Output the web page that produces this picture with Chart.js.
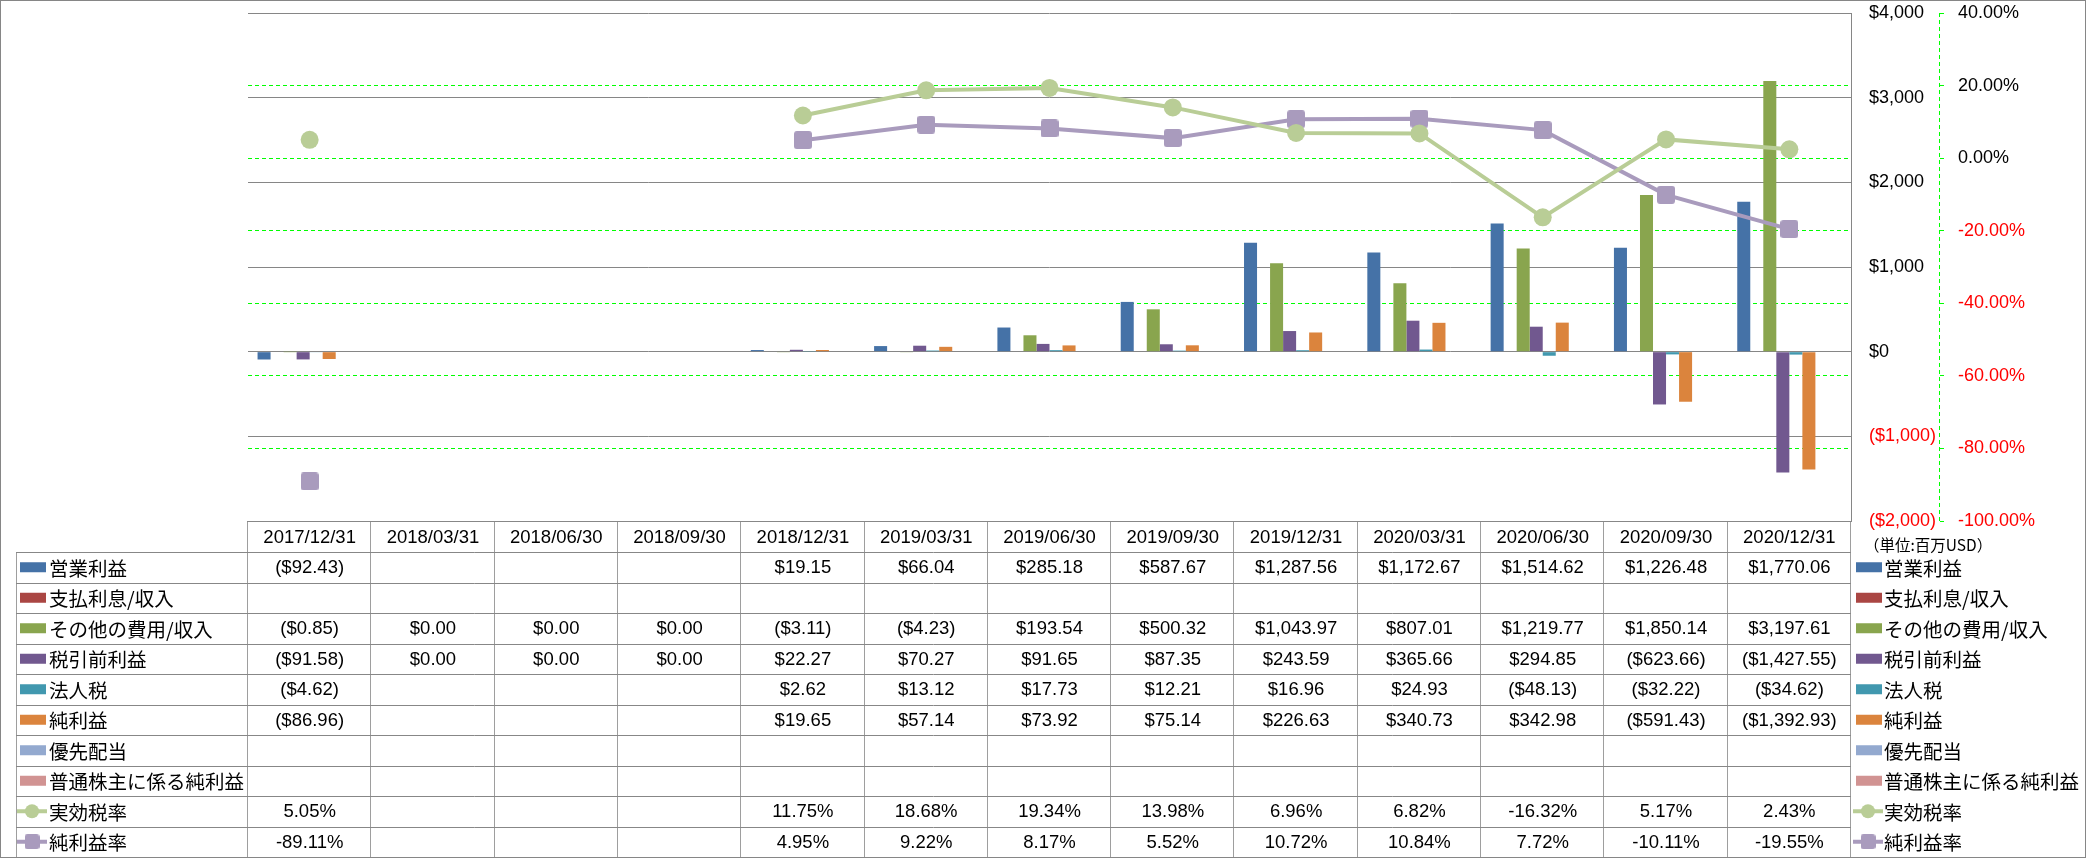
<!DOCTYPE html>
<html>
<head>
<meta charset="utf-8">
<script src="https://cdn.jsdelivr.net/npm/chart.js@4.4.0/dist/chart.umd.min.js"></script>
<style>
html,body{margin:0;padding:0;background:#fff;overflow:hidden}
canvas{display:block}
</style>
</head>
<body>
<canvas id="c" width="2086" height="858"></canvas>
<script>
// ---------------- data ----------------
const N = null;
const categories = ['2017/12/31','2018/03/31','2018/06/30','2018/09/30','2018/12/31','2019/03/31','2019/06/30','2019/09/30','2019/12/31','2020/03/31','2020/06/30','2020/09/30','2020/12/31'];
const seriesNames = ['営業利益','支払利息/収入','その他の費用/収入','税引前利益','法人税','純利益','優先配当','普通株主に係る純利益','実効税率','純利益率'];
const operatingIncome   = [-92.43, N, N, N, 19.15, 66.04, 285.18, 587.67, 1287.56, 1172.67, 1514.62, 1226.48, 1770.06];
const interestExpense   = [N, N, N, N, N, N, N, N, N, N, N, N, N];
const otherExpense      = [-0.85, 0, 0, 0, -3.11, -4.23, 193.54, 500.32, 1043.97, 807.01, 1219.77, 1850.14, 3197.61];
const pretaxIncome      = [-91.58, 0, 0, 0, 22.27, 70.27, 91.65, 87.35, 243.59, 365.66, 294.85, -623.66, -1427.55];
const incomeTax         = [-4.62, N, N, N, 2.62, 13.12, 17.73, 12.21, 16.96, 24.93, -48.13, -32.22, -34.62];
const netIncome         = [-86.96, N, N, N, 19.65, 57.14, 73.92, 75.14, 226.63, 340.73, 342.98, -591.43, -1392.93];
const preferredDividend = [N, N, N, N, N, N, N, N, N, N, N, N, N];
const netIncomeCommon   = [N, N, N, N, N, N, N, N, N, N, N, N, N];
const effectiveTaxRate  = [5.05, N, N, N, 11.75, 18.68, 19.34, 13.98, 6.96, 6.82, -16.32, 5.17, 2.43];
const netMargin         = [-89.11, N, N, N, 4.95, 9.22, 8.17, 5.52, 10.72, 10.84, 7.72, -10.11, -19.55];
const usdAxisTicks = [-2000, -1000, 0, 1000, 2000, 3000, 4000];
const pctAxisTicks = [-100, -80, -60, -40, -20, 0, 20, 40];
const unitLabel = '（単位:百万USD）';

// ---------------- styles ----------------
const seriesColors = ['#4572A7','#AA4643','#89A54E','#71588F','#4198AF','#DB843D','#93A9CF','#D19392','#B9CD96','#A99BBD'];
const barSeries = [operatingIncome, interestExpense, otherExpense, pretaxIncome, incomeTax, netIncome, preferredDividend, netIncomeCommon];
const lineSeries = [effectiveTaxRate, netMargin];
const LATIN = "'Liberation Sans', Arial, sans-serif";
const CJK = "'Noto Sans CJK JP', 'Noto Sans CJK SC', sans-serif";

function roundSquare(size, r, color) {
  const c = document.createElement('canvas');
  c.width = size; c.height = size;
  const g = c.getContext('2d');
  g.fillStyle = color;
  g.beginPath();
  g.moveTo(r, 0); g.lineTo(size - r, 0); g.quadraticCurveTo(size, 0, size, r);
  g.lineTo(size, size - r); g.quadraticCurveTo(size, size, size - r, size);
  g.lineTo(r, size); g.quadraticCurveTo(0, size, 0, size - r);
  g.lineTo(0, r); g.quadraticCurveTo(0, 0, r, 0);
  g.closePath(); g.fill();
  return c;
}
const squareMarker = roundSquare(18, 3, seriesColors[9]);

function fmtNum(v, d) {
  const s = Math.abs(v).toFixed(d);
  const parts = s.split('.');
  const ip = parts[0].replace(/\B(?=(\d{3})+(?!\d))/g, ',');
  return parts[1] ? ip + '.' + parts[1] : ip;
}
const fmtUSD = v => v == null ? '' : (v < 0 ? '($' + fmtNum(v, 2) + ')' : '$' + fmtNum(v, 2));
const fmtPct = v => v == null ? '' : v.toFixed(2) + '%';

const datasets = [];
barSeries.forEach((d, i) => {
  datasets.push({
    type: 'bar', label: seriesNames[i], data: d, yAxisID: 'y', order: 1,
    backgroundColor: seriesColors[i], borderWidth: 0,
    categoryPercentage: 0.845, barPercentage: 1.0
  });
});
lineSeries.forEach((d, j) => {
  const i = 8 + j;
  datasets.push({
    type: 'line', label: seriesNames[i], data: d, yAxisID: 'y1', order: 0,
    borderColor: seriesColors[i], backgroundColor: seriesColors[i],
    borderWidth: 4, tension: 0, spanGaps: false,
    pointStyle: j === 0 ? 'circle' : squareMarker,
    pointRadius: 9, pointBorderWidth: 0
  });
});

const tableRows = barSeries.map(d => d.map(fmtUSD)).concat(lineSeries.map(d => d.map(fmtPct)));

function drawKey(ctx, kx, cy, idx) {
  const col = seriesColors[idx];
  if (idx < 8) {
    ctx.fillStyle = col;
    ctx.fillRect(kx, cy - 5, 26, 10);
  } else {
    ctx.strokeStyle = col; ctx.lineWidth = 4;
    ctx.beginPath(); ctx.moveTo(kx - 3, cy); ctx.lineTo(kx + 27, cy); ctx.stroke();
    ctx.fillStyle = col;
    if (idx === 8) {
      ctx.beginPath(); ctx.arc(kx + 12, cy, 7, 0, Math.PI * 2); ctx.fill();
    } else {
      ctx.drawImage(roundSquare(15, 3, col), kx + 12 - 7.5, cy - 7.5);
    }
  }
}

const tablePlugin = {
  id: 'dataTable',
  afterDraw(chart) {
    const ctx = chart.ctx;
    const area = chart.chartArea;
    const x = chart.scales.x, y1 = chart.scales.y1;
    const H = chart.height, W = chart.width;
    const top = area.bottom;
    const headH = 31;
    const bodyTop = top + headH;
    const bodyBottom = H - 1;
    const rowH = (bodyBottom - bodyTop) / tableRows.length;
    const step = x.getPixelForValue(1) - x.getPixelForValue(0);
    const colEdge = i => x.getPixelForValue(0) - step / 2 + i * step;
    const tableLeft = 16;
    const tableRight = colEdge(categories.length);
    ctx.save();

    // green dashed axis line for percent axis
    ctx.strokeStyle = '#00FF00'; ctx.lineWidth = 1; ctx.setLineDash([4, 3]);
    const gx = Math.round(y1.left) - 0.5;
    ctx.beginPath(); ctx.moveTo(gx, area.top); ctx.lineTo(gx, area.bottom); ctx.stroke();
    ctx.setLineDash([]);

    // table grid
    const hl = (yy, x1, x2) => { const p = Math.round(yy) + 0.5; ctx.beginPath(); ctx.moveTo(x1, p); ctx.lineTo(x2, p); ctx.stroke(); };
    const vl = (xx, y1_, y2) => { const p = Math.round(xx) + 0.5; ctx.beginPath(); ctx.moveTo(p, y1_); ctx.lineTo(p, y2); ctx.stroke(); };
    ctx.strokeStyle = '#9e9e9e'; ctx.lineWidth = 1;
    for (let i = 0; i <= categories.length; i++) vl(colEdge(i) - 1, top, bodyBottom);
    vl(tableLeft, bodyTop, bodyBottom);
    ctx.strokeStyle = '#878787';
    hl(top, colEdge(0) - 1, tableRight);
    for (let r = 0; r <= tableRows.length; r++) hl(bodyTop + r * rowH, tableLeft, tableRight);

    // header
    ctx.fillStyle = '#000'; ctx.textBaseline = 'middle'; ctx.textAlign = 'center';
    ctx.font = '18.5px ' + LATIN;
    categories.forEach((c, i) => ctx.fillText(c, x.getPixelForValue(i), top + headH / 2 + 1));

    // rows
    tableRows.forEach((row, r) => {
      const cy = bodyTop + r * rowH + rowH / 2;
      ctx.font = '18.5px ' + LATIN; ctx.textAlign = 'center'; ctx.fillStyle = '#000';
      row.forEach((t, i) => { if (t) ctx.fillText(t, x.getPixelForValue(i), cy + 1); });
      drawKey(ctx, 20, cy, r);
      ctx.font = '19.5px ' + CJK; ctx.textAlign = 'left'; ctx.fillStyle = '#000';
      ctx.fillText(seriesNames[r], 49, cy + 1);
      drawKey(ctx, tableRight + 5, cy, r);
      ctx.font = '19.5px ' + CJK; ctx.textAlign = 'left'; ctx.fillStyle = '#000';
      ctx.fillText(seriesNames[r], tableRight + 33, cy + 1);
    });

    // unit label
    ctx.font = '15.5px ' + CJK; ctx.textAlign = 'left'; ctx.fillStyle = '#000';
    ctx.fillText(unitLabel, tableRight + 13, top + 24);

    // outer frame
    ctx.strokeStyle = '#868686'; ctx.lineWidth = 1;
    ctx.strokeRect(0.5, 0.5, W - 1, H - 1);
    ctx.restore();
  }
};

Chart.defaults.font.family = LATIN;
Chart.defaults.color = '#000';

const pctEdge = v => v === Math.max(...pctAxisTicks) || v === Math.min(...pctAxisTicks);

new Chart(document.getElementById('c'), {
  type: 'bar',
  data: { labels: categories, datasets: datasets },
  plugins: [tablePlugin],
  options: {
    responsive: false,
    devicePixelRatio: 1,
    animation: false,
    events: [],
    layout: { padding: { left: 248, right: 0, top: 0, bottom: 337 } },
    plugins: { legend: { display: false }, tooltip: { enabled: false } },
    scales: {
      x: { type: 'category', offset: true, display: false },
      y: {
        position: 'right', weight: 0,
        min: Math.min(...usdAxisTicks), max: Math.max(...usdAxisTicks),
        afterBuildTicks: s => { s.ticks = usdAxisTicks.map(v => ({ value: v })); },
        afterFit: s => { s.width = 89; s.paddingTop = 13; },
        grid: { color: '#868686', lineWidth: 1, drawTicks: false },
        border: { display: true, color: '#868686', width: 1 },
        ticks: {
          crossAlign: 'near', padding: 18,
          font: { size: 18, family: LATIN },
          color: c => (c.tick && c.tick.value < 0) ? '#FF0000' : '#000000',
          callback: v => v < 0 ? '($' + fmtNum(v, 0) + ')' : '$' + fmtNum(v, 0)
        }
      },
      y1: {
        position: 'right', weight: 1,
        min: Math.min(...pctAxisTicks), max: Math.max(...pctAxisTicks),
        afterBuildTicks: s => { s.ticks = pctAxisTicks.map(v => ({ value: v })); },
        afterFit: s => { s.width = 146; s.paddingTop = 13; },
        grid: {
          color: c => (c.tick && pctEdge(c.tick.value)) ? 'rgba(0,0,0,0)' : '#00FF00',
          tickColor: '#00FF00',
          lineWidth: 1, drawTicks: true, tickLength: 4
        },
        border: { display: false, dash: [4, 3] },
        ticks: {
          crossAlign: 'near', padding: 14,
          font: { size: 18, family: LATIN },
          color: c => (c.tick && c.tick.value < 0) ? '#FF0000' : '#000000',
          callback: v => v.toFixed(2) + '%'
        }
      }
    }
  }
});
</script>
</body>
</html>
